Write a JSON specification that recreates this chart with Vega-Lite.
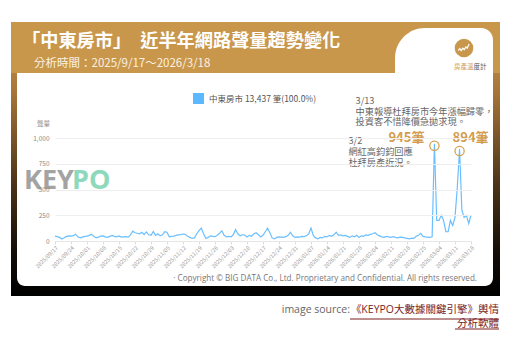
{
  "$schema": "https://vega.github.io/schema/vega-lite/v6.json",
  "width": 416,
  "height": 103,
  "autosize": {"type": "none"},
  "padding": {"left": 55, "top": 138, "right": 42, "bottom": 110},
  "background": "white",
  "config": {"view": {"stroke": null}, "font": "Noto Sans CJK TC"},
  "datasets": {
    "series": [
      {"d":"2025/09/17","v":48},{"d":"2025/09/18","v":42},{"d":"2025/09/19","v":35},{"d":"2025/09/20","v":20},{"d":"2025/09/21","v":32},{"d":"2025/09/22","v":45},{"d":"2025/09/23","v":50},{"d":"2025/09/24","v":48},{"d":"2025/09/25","v":52},{"d":"2025/09/26","v":66},{"d":"2025/09/27","v":40},{"d":"2025/09/28","v":30},{"d":"2025/09/29","v":38},{"d":"2025/09/30","v":45},
      {"d":"2025/10/01","v":48},{"d":"2025/10/02","v":55},{"d":"2025/10/03","v":66},{"d":"2025/10/04","v":45},{"d":"2025/10/05","v":30},{"d":"2025/10/06","v":38},{"d":"2025/10/07","v":48},{"d":"2025/10/08","v":50},{"d":"2025/10/09","v":40},{"d":"2025/10/10","v":35},{"d":"2025/10/11","v":45},{"d":"2025/10/12","v":55},{"d":"2025/10/13","v":45},{"d":"2025/10/14","v":40},{"d":"2025/10/15","v":50},{"d":"2025/10/16","v":38},{"d":"2025/10/17","v":40},{"d":"2025/10/18","v":42},{"d":"2025/10/19","v":38},{"d":"2025/10/20","v":60},{"d":"2025/10/21","v":95},{"d":"2025/10/22","v":80},{"d":"2025/10/23","v":75},{"d":"2025/10/24","v":70},{"d":"2025/10/25","v":85},{"d":"2025/10/26","v":62},{"d":"2025/10/27","v":88},{"d":"2025/10/28","v":60},{"d":"2025/10/29","v":55},{"d":"2025/10/30","v":92},{"d":"2025/10/31","v":55},
      {"d":"2025/11/01","v":70},{"d":"2025/11/02","v":50},{"d":"2025/11/03","v":60},{"d":"2025/11/04","v":90},{"d":"2025/11/05","v":85},{"d":"2025/11/06","v":40},{"d":"2025/11/07","v":45},{"d":"2025/11/08","v":48},{"d":"2025/11/09","v":55},{"d":"2025/11/10","v":60},{"d":"2025/11/11","v":62},{"d":"2025/11/12","v":68},{"d":"2025/11/13","v":65},{"d":"2025/11/14","v":45},{"d":"2025/11/15","v":35},{"d":"2025/11/16","v":25},{"d":"2025/11/17","v":30},{"d":"2025/11/18","v":70},{"d":"2025/11/19","v":100},{"d":"2025/11/20","v":125},{"d":"2025/11/21","v":70},{"d":"2025/11/22","v":25},{"d":"2025/11/23","v":35},{"d":"2025/11/24","v":50},{"d":"2025/11/25","v":45},{"d":"2025/11/26","v":42},{"d":"2025/11/27","v":55},{"d":"2025/11/28","v":75},{"d":"2025/11/29","v":100},{"d":"2025/11/30","v":55},
      {"d":"2025/12/01","v":40},{"d":"2025/12/02","v":45},{"d":"2025/12/03","v":40},{"d":"2025/12/04","v":60},{"d":"2025/12/05","v":110},{"d":"2025/12/06","v":70},{"d":"2025/12/07","v":50},{"d":"2025/12/08","v":60},{"d":"2025/12/09","v":58},{"d":"2025/12/10","v":40},{"d":"2025/12/11","v":55},{"d":"2025/12/12","v":45},{"d":"2025/12/13","v":70},{"d":"2025/12/14","v":80},{"d":"2025/12/15","v":60},{"d":"2025/12/16","v":40},{"d":"2025/12/17","v":55},{"d":"2025/12/18","v":90},{"d":"2025/12/19","v":125},{"d":"2025/12/20","v":80},{"d":"2025/12/21","v":30},{"d":"2025/12/22","v":20},{"d":"2025/12/23","v":35},{"d":"2025/12/24","v":40},{"d":"2025/12/25","v":38},{"d":"2025/12/26","v":35},{"d":"2025/12/27","v":42},{"d":"2025/12/28","v":55},{"d":"2025/12/29","v":85},{"d":"2025/12/30","v":50},{"d":"2025/12/31","v":35},
      {"d":"2026/01/01","v":40},{"d":"2026/01/02","v":38},{"d":"2026/01/03","v":45},{"d":"2026/01/04","v":42},{"d":"2026/01/05","v":50},{"d":"2026/01/06","v":70},{"d":"2026/01/07","v":125},{"d":"2026/01/08","v":55},{"d":"2026/01/09","v":30},{"d":"2026/01/10","v":20},{"d":"2026/01/11","v":35},{"d":"2026/01/12","v":30},{"d":"2026/01/13","v":45},{"d":"2026/01/14","v":40},{"d":"2026/01/15","v":55},{"d":"2026/01/16","v":45},{"d":"2026/01/17","v":60},{"d":"2026/01/18","v":85},{"d":"2026/01/19","v":55},{"d":"2026/01/20","v":60},{"d":"2026/01/21","v":50},{"d":"2026/01/22","v":55},{"d":"2026/01/23","v":45},{"d":"2026/01/24","v":35},{"d":"2026/01/25","v":50},{"d":"2026/01/26","v":40},{"d":"2026/01/27","v":55},{"d":"2026/01/28","v":35},{"d":"2026/01/29","v":50},{"d":"2026/01/30","v":45},{"d":"2026/01/31","v":60},
      {"d":"2026/02/01","v":55},{"d":"2026/02/02","v":65},{"d":"2026/02/03","v":70},{"d":"2026/02/04","v":80},{"d":"2026/02/05","v":60},{"d":"2026/02/06","v":50},{"d":"2026/02/07","v":40},{"d":"2026/02/08","v":35},{"d":"2026/02/09","v":45},{"d":"2026/02/10","v":40},{"d":"2026/02/11","v":35},{"d":"2026/02/12","v":42},{"d":"2026/02/13","v":35},{"d":"2026/02/14","v":30},{"d":"2026/02/15","v":38},{"d":"2026/02/16","v":35},{"d":"2026/02/17","v":30},{"d":"2026/02/18","v":25},{"d":"2026/02/19","v":20},{"d":"2026/02/20","v":28},{"d":"2026/02/21","v":25},{"d":"2026/02/22","v":45},{"d":"2026/02/23","v":55},{"d":"2026/02/24","v":75},{"d":"2026/02/25","v":45},{"d":"2026/02/26","v":40},{"d":"2026/02/27","v":38},{"d":"2026/02/28","v":35},
      {"d":"2026/03/01","v":40},{"d":"2026/03/02","v":945},{"d":"2026/03/03","v":200},{"d":"2026/03/04","v":200},{"d":"2026/03/05","v":250},{"d":"2026/03/06","v":200},{"d":"2026/03/07","v":90},{"d":"2026/03/08","v":90},{"d":"2026/03/09","v":200},{"d":"2026/03/10","v":150},{"d":"2026/03/11","v":230},{"d":"2026/03/12","v":520},{"d":"2026/03/13","v":894},{"d":"2026/03/14","v":300},{"d":"2026/03/15","v":230},{"d":"2026/03/16","v":250},{"d":"2026/03/17","v":170},{"d":"2026/03/18","v":250}
    ],
    "peaks": [
      {"d": "2026/03/02", "v": 945, "t": "945筆"},
      {"d": "2026/03/13", "v": 894, "t": "894筆"}
    ]
  },
  "encoding": {
    "x": {"field": "d", "type": "temporal",
      "scale": {"domain": [{"year": 2025, "month": 9, "date": 17}, {"year": 2026, "month": 3, "date": 18}]},
      "axis": {"zindex": 1, "values": [
        {"year": 2025, "month": 9, "date": 17}, {"year": 2025, "month": 9, "date": 24}, {"year": 2025, "month": 10, "date": 1}, {"year": 2025, "month": 10, "date": 8}, {"year": 2025, "month": 10, "date": 15}, {"year": 2025, "month": 10, "date": 22}, {"year": 2025, "month": 10, "date": 29}, {"year": 2025, "month": 11, "date": 5}, {"year": 2025, "month": 11, "date": 12}, {"year": 2025, "month": 11, "date": 19}, {"year": 2025, "month": 11, "date": 26}, {"year": 2025, "month": 12, "date": 3}, {"year": 2025, "month": 12, "date": 10}, {"year": 2025, "month": 12, "date": 17}, {"year": 2025, "month": 12, "date": 24}, {"year": 2025, "month": 12, "date": 31}, {"year": 2026, "month": 1, "date": 7}, {"year": 2026, "month": 1, "date": 14}, {"year": 2026, "month": 1, "date": 21}, {"year": 2026, "month": 1, "date": 28}, {"year": 2026, "month": 2, "date": 4}, {"year": 2026, "month": 2, "date": 11}, {"year": 2026, "month": 2, "date": 18}, {"year": 2026, "month": 2, "date": 25}, {"year": 2026, "month": 3, "date": 4}, {"year": 2026, "month": 3, "date": 11}, {"year": 2026, "month": 3, "date": 18}],
        "format": "%Y/%m/%d", "labelAngle": -45, "labelFontSize": 5.5, "labelColor": "#999999", "title": null, "grid": false, "tickSize": 3, "tickColor": "#DDDDDD", "domainColor": "#E6E6E6", "labelPadding": 1, "labelOverlap": false, "labelBound": false, "labelFlush": false}
    },
    "y": {"field": "v", "type": "quantitative",
      "scale": {"domain": [0, 1000], "nice": false},
      "axis": {"zindex": 1, "values": [0, 250, 500, 750, 1000], "labelExpr": "format(datum.value, ',')", "title": "聲量", "titleAngle": 0, "titleX": -12, "titleY": -15, "titleAlign": "center", "titleBaseline": "middle", "titleFontSize": 6.5, "titleColor": "#888888", "titleFontWeight": "normal", "labelFontSize": 6.5, "labelColor": "#888888", "labelPadding": 6, "labelOverlap": false, "ticks": false, "domain": false, "grid": true, "gridColor": "#EEEEEE"}
    }
  },
  "layer": [
    {
      "data": {"values": [{}]},
      "mark": {"type": "rect", "fill": {"gradient": "linear", "x1": 0, "y1": 0, "x2": 0, "y2": 1, "stops": [{"offset": 0, "color": "#C9974B"}, {"offset": 0.25, "color": "#A8763A"}, {"offset": 0.6, "color": "#4A3217"}, {"offset": 0.85, "color": "#120C06"}, {"offset": 1, "color": "#000000"}]}},
      "encoding": {"x": {"value": -44}, "x2": {"value": 445}, "y": {"value": -116}, "y2": {"value": 158}}
    },
    {
      "data": {"values": [{}]},
      "mark": {"type": "rect", "fill": "#C9974B"},
      "encoding": {"x": {"value": -44}, "x2": {"value": 445}, "y": {"value": -116}, "y2": {"value": -65}}
    },
    {
      "data": {"values": [{}]},
      "mark": {"type": "rect", "fill": "white", "cornerRadiusBottomLeft": 8, "cornerRadiusBottomRight": 8},
      "encoding": {"x": {"value": -38}, "x2": {"value": 438}, "y": {"value": -65}, "y2": {"value": 148}}
    },
    {
      "data": {"values": [{}]},
      "mark": {"type": "rect", "fill": "white", "cornerRadiusTopLeft": 30, "cornerRadiusTopRight": 12},
      "encoding": {"x": {"value": 340}, "x2": {"value": 438}, "y": {"value": -110}, "y2": {"value": -40}}
    },
    {
      "data": {"values": [{}]},
      "mark": {"type": "text", "text": "「中東房市」　近半年網路聲量趨勢變化", "align": "left", "baseline": "alphabetic", "fontSize": 18.2, "fontWeight": "bold", "fill": "white"},
      "encoding": {"x": {"value": -33}, "y": {"value": -91}}
    },
    {
      "data": {"values": [{}]},
      "mark": {"type": "text", "text": "分析時間：2025/9/17～2026/3/18", "align": "left", "baseline": "alphabetic", "fontSize": 11.5, "fill": "#FBF1E2"},
      "encoding": {"x": {"value": -21}, "y": {"value": -71}}
    },
    {
      "data": {"values": [{}]},
      "mark": {"type": "point", "shape": "circle", "filled": true, "size": 346, "color": "#C9974B", "opacity": 1},
      "encoding": {"x": {"value": 409}, "y": {"value": -90}}
    },
    {
      "data": {"values": [{}]},
      "mark": {"type": "point", "shape": "M-0.62,0.28L-0.45,0.05L-0.3,0.28L-0.12,0.02L0.02,0.18L0.2,-0.12L0.34,0.02L0.55,-0.42", "filled": false, "size": 346, "stroke": "white", "strokeWidth": 1.2, "opacity": 1},
      "encoding": {"x": {"value": 409}, "y": {"value": -90}}
    },
    {
      "data": {"values": [{}]},
      "mark": {"type": "text", "text": "房產溫", "align": "left", "baseline": "middle", "fontSize": 6.5, "fill": "#D2A35E"},
      "encoding": {"x": {"value": 399}, "y": {"value": -71}}
    },
    {
      "data": {"values": [{}]},
      "mark": {"type": "text", "text": "度計", "align": "left", "baseline": "middle", "fontSize": 6.5, "fill": "#555555"},
      "encoding": {"x": {"value": 418.5}, "y": {"value": -71}}
    },
    {
      "data": {"values": [{}]},
      "mark": {"type": "text", "text": "KEY", "align": "left", "baseline": "alphabetic", "font": "Open Sans", "fontSize": 27, "fontWeight": "bold", "fill": "#A3A3A3"},
      "encoding": {"x": {"value": -31}, "y": {"value": 51}}
    },
    {
      "data": {"values": [{}]},
      "mark": {"type": "text", "text": "PO", "align": "left", "baseline": "alphabetic", "font": "Open Sans", "fontSize": 27, "fontWeight": "bold", "fill": "#8ED9BC"},
      "encoding": {"x": {"value": 17}, "y": {"value": 51}}
    },
    {
      "data": {"name": "series"},
      "mark": {"type": "line", "strokeWidth": 1.2},
      "encoding": {
        "color": {"datum": "中東房市", "type": "nominal", "scale": {"range": ["#6CBFFF"]},
          "legend": {"orient": "none", "legendX": 138, "legendY": -45, "title": null, "symbolType": "square", "symbolSize": 121, "symbolFillColor": "#5CB8FF", "symbolStrokeWidth": 0, "labelFontSize": 8.5, "labelColor": "#555555", "labelOffset": 5, "labelExpr": "datum.label + ' 13,437 筆(100.0%)'"}
        }
      }
    },
    {
      "data": {"name": "peaks"},
      "mark": {"type": "point", "shape": "circle", "filled": false, "stroke": "#D6A24F", "strokeWidth": 1.3, "size": 85, "yOffset": 2, "opacity": 1}
    },
    {
      "data": {"name": "peaks"},
      "transform": [{"filter": "datum.v == 945"}],
      "mark": {"type": "text", "align": "right", "baseline": "middle", "dx": -10, "dy": -6, "fontSize": 13, "fontWeight": "bold", "fill": "#D39C4E"},
      "encoding": {"text": {"field": "t"}}
    },
    {
      "data": {"name": "peaks"},
      "transform": [{"filter": "datum.v == 894"}],
      "mark": {"type": "text", "align": "left", "baseline": "middle", "dx": -7, "dy": -11, "fontSize": 13, "fontWeight": "bold", "fill": "#D39C4E"},
      "encoding": {"text": {"field": "t"}}
    },
    {
      "data": {"name": "peaks"},
      "transform": [{"filter": "datum.v == 894"}],
      "mark": {"type": "text", "text": "3/13", "align": "left", "baseline": "alphabetic", "dx": -104, "dy": -45, "fontSize": 9.2, "fill": "#666666"}
    },
    {
      "data": {"name": "peaks"},
      "transform": [{"filter": "datum.v == 894"}],
      "mark": {"type": "text", "text": "中東報導杜拜房市今年漲幅歸零，", "align": "left", "baseline": "alphabetic", "dx": -104, "dy": -34.3, "fontSize": 9.2, "fill": "#666666"}
    },
    {
      "data": {"name": "peaks"},
      "transform": [{"filter": "datum.v == 894"}],
      "mark": {"type": "text", "text": "投資客不惜降價急拋求現。", "align": "left", "baseline": "alphabetic", "dx": -104, "dy": -23.6, "fontSize": 9.2, "fill": "#666666"}
    },
    {
      "data": {"name": "peaks"},
      "transform": [{"filter": "datum.v == 945"}],
      "mark": {"type": "text", "text": "3/2", "align": "left", "baseline": "alphabetic", "dx": -86, "dy": 0.6, "fontSize": 9.2, "fill": "#666666"}
    },
    {
      "data": {"name": "peaks"},
      "transform": [{"filter": "datum.v == 945"}],
      "mark": {"type": "text", "text": "網紅高鈞鈞回應", "align": "left", "baseline": "alphabetic", "dx": -86, "dy": 11.3, "fontSize": 9.2, "fill": "#666666"}
    },
    {
      "data": {"name": "peaks"},
      "transform": [{"filter": "datum.v == 945"}],
      "mark": {"type": "text", "text": "杜拜房產近況。", "align": "left", "baseline": "alphabetic", "dx": -86, "dy": 22, "fontSize": 9.2, "fill": "#666666"}
    },
    {
      "data": {"values": [{}]},
      "mark": {"type": "text", "text": "· Copyright © BIG DATA Co., Ltd. Proprietary and Confidential. All rights reserved.", "align": "right", "baseline": "middle", "font": "Open Sans", "fontSize": 8.1, "fill": "#777777"},
      "encoding": {"x": {"value": 422}, "y": {"value": 141}}
    },
    {
      "data": {"values": [{}]},
      "mark": {"type": "text", "text": "image source: ", "align": "right", "baseline": "alphabetic", "font": "Open Sans", "fontSize": 10.5, "fill": "#666666"},
      "encoding": {"x": {"value": 295}, "y": {"value": 175}}
    },
    {
      "data": {"values": [{}]},
      "mark": {"type": "text", "text": "《KEYPO大數據關鍵引擎》輿情", "align": "right", "baseline": "alphabetic", "font": "Open Sans, Noto Sans CJK TC", "fontSize": 10.5, "fill": "#7A1E1E"},
      "encoding": {"x": {"value": 444}, "y": {"value": 175}}
    },
    {
      "data": {"values": [{}]},
      "mark": {"type": "text", "text": "分析軟體", "align": "right", "baseline": "alphabetic", "font": "Open Sans, Noto Sans CJK TC", "fontSize": 10.5, "fill": "#7A1E1E"},
      "encoding": {"x": {"value": 444}, "y": {"value": 188.5}}
    },
    {
      "data": {"values": [{}]},
      "mark": {"type": "rule", "stroke": "#7A1E1E", "strokeWidth": 1},
      "encoding": {"x": {"value": 295}, "x2": {"value": 444}, "y": {"value": 181}}
    },
    {
      "data": {"values": [{}]},
      "mark": {"type": "rule", "stroke": "#7A1E1E", "strokeWidth": 1},
      "encoding": {"x": {"value": 400}, "x2": {"value": 444}, "y": {"value": 191}}
    }
  ]
}
